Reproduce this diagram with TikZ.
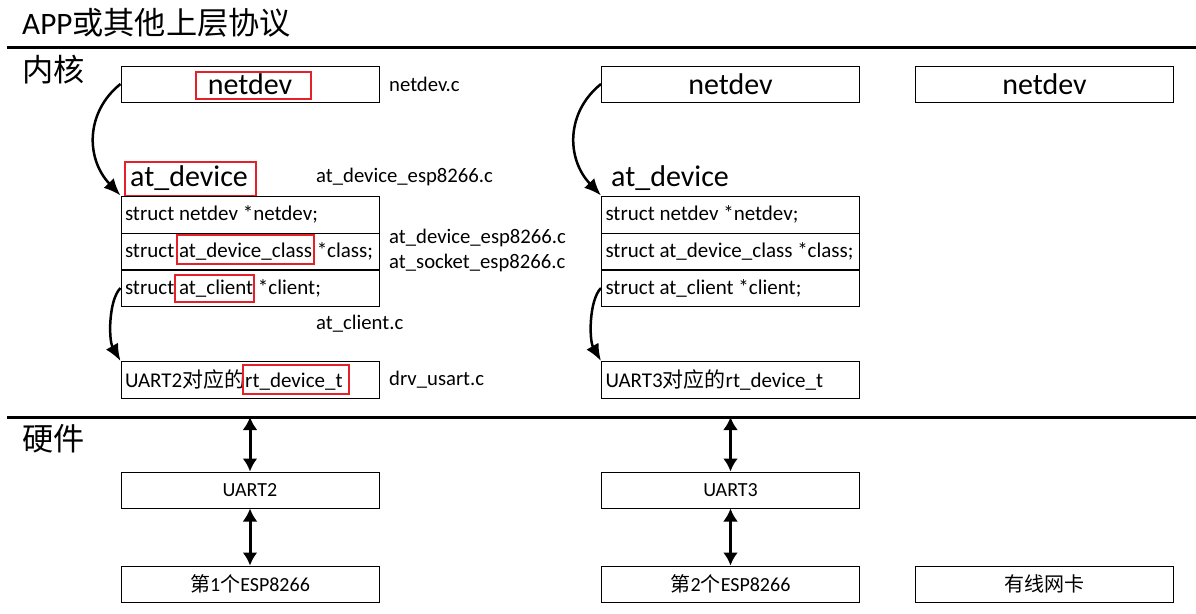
\documentclass[tikz,border=0pt]{standalone}
\usepackage{fontspec}
\setmainfont{Carlito}
\newfontfamily\cjk{Noto Sans CJK SC}
\usetikzlibrary{arrows.meta}
\definecolor{rbred}{RGB}{228,32,40}
\newcommand\rowtext[1]{\makebox[250pt][l]{#1}}
\begin{document}
\begin{tikzpicture}[x=1pt,y=-1pt,
  box/.style={draw,line width=1pt,minimum width=258pt,minimum height=36pt,inner sep=0pt,font=\fontsize{20}{24}\selectfont},
  bigbox/.style={box,font=\fontsize{30}{34}\selectfont},
  rowbox/.style={draw,line width=1pt,minimum width=258pt,minimum height=37pt,inner xsep=4pt,inner ysep=0pt,font=\fontsize{21}{25}\selectfont},
  lbl/.style={anchor=west,inner sep=0pt,font=\fontsize{20.7}{24}\selectfont},
  head/.style={anchor=west,inner sep=0pt,font=\fontsize{30}{34}\selectfont},
  title/.style={anchor=west,inner sep=0pt,font=\fontsize{31.2}{36}\selectfont},
  redbox/.style={draw=rbred,line width=2pt},
  sep/.style={line width=3pt},
  curv/.style={line width=2.5pt,-{Latex[length=17pt,width=14pt]}},
  dbl/.style={line width=3pt,{Latex[length=13pt,width=15pt]}-{Latex[length=13pt,width=15pt]}}
]
\useasboundingbox (0,0) rectangle (1196,613);
\fill[white] (0,0) rectangle (1196,613);

% titles and separators
\node[title] (app) at (22,23) {APP{\cjk 或其他上层协议}};
\coordinate (l1a) at (7,47); \coordinate (l1b) at (1196,47);
\draw[sep] (l1a) -- (l1b);
\node[title] (kern) at (22,70) {\cjk 内核};
\coordinate (l2a) at (7,417); \coordinate (l2b) at (1196,417);
\draw[sep] (l2a) -- (l2b);
\node[title] (hw) at (22,439) {\cjk 硬件};

% left column
\node[bigbox] (nd1) at (250,84) {netdev};
\draw[redbox] (196,72) rectangle (311,99);
\node[lbl] (f1) at (389,84) {netdev.c};
\node[head] (ad1) at (130,178) {at\_device};
\draw[redbox] (125,162) rectangle (256,196);
\node[lbl] (f2) at (316,177) {at\_device\_esp8266.c};
\node[rowbox] (r11) at (250,214.5) {\rowtext{struct netdev *netdev;}};
\node[rowbox] (r12) at (250,251.5) {\rowtext{struct at\_device\_class *class;}};
\draw[redbox] (177,235) rectangle (314,264);
\node[rowbox] (r13) at (250,288) {\rowtext{struct at\_client *client;}};
\draw[redbox] (175,275) rectangle (254,302);
\node[lbl] (f3) at (389,238) {at\_device\_esp8266.c};
\node[lbl] (f4) at (389,263) {at\_socket\_esp8266.c};
\node[lbl] (f5) at (316,324) {at\_client.c};
\node[rowbox] (rt1) at (250,380) {\rowtext{UART2{\cjk 对应的}rt\_device\_t}};
\draw[redbox] (243,365) rectangle (349,394);
\node[lbl] (f6) at (389,380) {drv\_usart.c};
\node[box] (u2) at (250,490) {UART2};
\node[box] (esp1) at (250,584) {{\cjk 第}1{\cjk 个}ESP8266};

% middle column
\node[bigbox] (nd2) at (730.5,84) {netdev};
\node[head] (ad2) at (611,178) {at\_device};
\node[rowbox] (r21) at (730.5,214.5) {\rowtext{struct netdev *netdev;}};
\node[rowbox] (r22) at (730.5,251.5) {\rowtext{struct at\_device\_class *class;}};
\node[rowbox] (r23) at (730.5,288) {\rowtext{struct at\_client *client;}};
\node[rowbox] (rt2) at (730.5,380) {\rowtext{UART3{\cjk 对应的}rt\_device\_t}};
\node[box] (u3) at (730.5,490) {UART3};
\node[box] (esp2) at (730.5,584) {{\cjk 第}2{\cjk 个}ESP8266};

% right column
\node[bigbox] (nd3) at (1044.5,84) {netdev};
\node[box] (eth) at (1044.5,584) {\cjk 有线网卡};

% curved arrows
\draw[curv] (nd1.west) .. controls +(-35,28) and +(-35,-37) .. (r11.north west);
\draw[curv] (r13.west) .. controls +(-12,12) and +(-12,-21) .. (rt1.north west);
\draw[curv] (nd2.west) .. controls +(-35,28) and +(-35,-37) .. (r21.north west);
\draw[curv] (r23.west) .. controls +(-12,12) and +(-12,-21) .. (rt2.north west);

% double arrows
\coordinate (h1) at (250,417);
\coordinate (h2) at (730.5,417);
\draw[dbl] (h1) -- (u2.north);
\draw[dbl] (u2.south) -- (esp1.north);
\draw[dbl] (h2) -- (u3.north);
\draw[dbl] (u3.south) -- (esp2.north);
\end{tikzpicture}
\end{document}
